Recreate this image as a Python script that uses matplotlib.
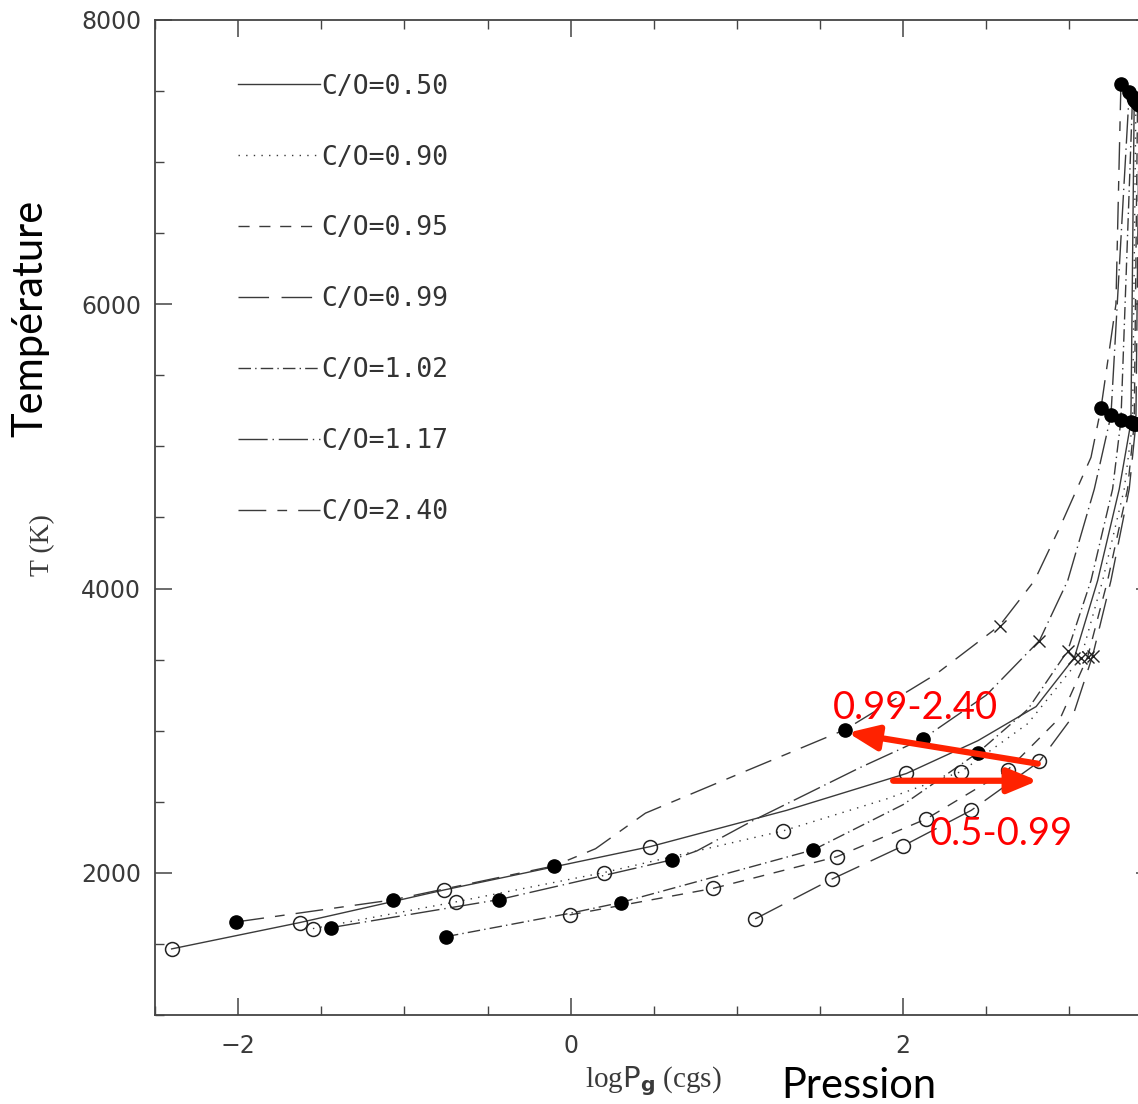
import matplotlib
matplotlib.use("Agg")
import matplotlib.pyplot as plt
from matplotlib.ticker import MultipleLocator

# --- data: log Pg (cgs) and T (K) along each model ---
labels = ["C/O=0.50", "C/O=0.90", "C/O=0.95", "C/O=0.99", "C/O=1.02", "C/O=1.17", "C/O=2.40"]

logp_050 = [-2.40, -1.63, -0.76, 0.48, 1.30, 2.02, 2.45, 2.80, 3.03, 3.17, 3.30, 3.37, 3.39]
t_050 = [1465, 1650, 1880, 2185, 2440, 2699, 2930, 3170, 3514, 4056, 4700, 5169, 7440]

logp_090 = [-1.55, -0.69, 0.20, 1.28, 1.90, 2.35, 2.75, 3.07, 3.20, 3.33, 3.38, 3.40]
t_090 = [1608, 1796, 2002, 2296, 2520, 2713, 3050, 3514, 4056, 4700, 5165, 7420]

logp_095 = [-0.006, 0.855, 1.60, 2.14, 2.63, 2.95, 3.11, 3.23, 3.35, 3.39, 3.41]
t_095 = [1704, 1890, 2113, 2380, 2725, 3100, 3520, 4056, 4700, 5160, 7410]

logp_099 = [1.11, 1.57, 2.00, 2.41, 2.82, 3.02, 3.14, 3.25, 3.36, 3.40, 3.42]
t_099 = [1676, 1955, 2190, 2440, 2784, 3100, 3528, 4056, 4700, 5160, 7400]

logp_102 = [-0.75, -0.006, 0.30, 1.46, 2.00, 2.45, 2.75, 2.99, 3.13, 3.26, 3.31, 3.38]
t_102 = [1551, 1715, 1791, 2162, 2480, 2846, 3150, 3563, 4056, 4700, 5183, 7460]

logp_117 = [-1.44, -0.43, 0.61, 0.76, 1.10, 1.74, 2.12, 2.50, 2.82, 2.99, 3.15, 3.25, 3.36]
t_117 = [1615, 1812, 2092, 2155, 2370, 2740, 2944, 3250, 3634, 4056, 4700, 5218, 7490]

logp_240 = [-2.01, -1.07, -0.10, 0.15, 0.45, 1.00, 1.65, 2.20, 2.58, 2.79, 2.95, 3.13, 3.19, 3.28, 3.31]
t_240 = [1655, 1810, 2049, 2170, 2420, 2690, 3007, 3400, 3739, 4056, 4450, 4923, 5268, 6000, 7549]

# markers
open_logp = [-2.40, -1.63, -0.76, 0.48, 2.02,
             -1.55, -0.69, 0.20, 1.28, 2.35,
             -0.006, 0.855, 1.60, 2.14, 2.63,
             1.11, 1.57, 2.00, 2.41, 2.82]
open_t = [1465, 1650, 1880, 2185, 2699,
          1608, 1796, 2002, 2296, 2713,
          1704, 1890, 2113, 2380, 2725,
          1676, 1955, 2190, 2440, 2784]

filled_logp = [-0.75, 0.30, 1.46, 2.45,
               -1.44, -0.43, 0.61, 2.12,
               -2.01, -1.07, -0.10, 1.65,
               3.19, 3.25, 3.31, 3.37, 3.38, 3.39, 3.40,
               3.31, 3.36, 3.38, 3.39, 3.40, 3.41, 3.42]
filled_t = [1551, 1791, 2162, 2846,
            1615, 1812, 2092, 2944,
            1655, 1810, 2049, 3007,
            5268, 5218, 5183, 5169, 5165, 5160, 5160,
            7549, 7490, 7460, 7440, 7420, 7410, 7400]

cross_logp = [2.58, 2.82, 2.99, 3.03, 3.07, 3.11, 3.14]
cross_t = [3739, 3634, 3563, 3514, 3514, 3520, 3528]

# red annotations
ann_texts = ["0.99-2.40", "0.5-0.99"]
ann_text_xy = [(1.58, 3162), (2.16, 2275)]
arrow_tail = [(2.81, 2768), (1.94, 2648)]
arrow_head = [(1.667, 2986), (2.81, 2648)]

curves = [(logp_050, t_050), (logp_090, t_090), (logp_095, t_095), (logp_099, t_099),
          (logp_102, t_102), (logp_117, t_117), (logp_240, t_240)]
styles = ["-", (0, (1, 4.5)), (0, (8, 7)), (0, (22, 9)),
          (0, (9, 3, 1, 3)), (0, (21, 3.5, 1, 3.5)), (0, (20, 8, 7, 8))]

line_col = "#3a3a3a"

fig = plt.figure(figsize=(11.38, 11.04), dpi=100)
ax = fig.add_axes([155 / 1138, 89 / 1104, 997.5 / 1138, 995 / 1104])

handles = []
for (x, y), ls, lab in zip(curves, styles, labels):
    h, = ax.plot(x, y, color=line_col, lw=1.0, linestyle=ls, label=lab, zorder=2)
    handles.append(h)

ax.plot(open_logp, open_t, "o", ms=10, mfc="none", mec="#222", mew=1.1, ls="none", zorder=3)
ax.plot(filled_logp, filled_t, "o", ms=9.5, mfc="black", mec="black", ls="none", zorder=3)
ax.plot(cross_logp, cross_t, "x", ms=9, mec="#222", mew=1.0, ls="none", zorder=3)

ax.set_xlim(-2.5, 3.5)
ax.set_ylim(1000, 8000)
ax.xaxis.set_major_locator(MultipleLocator(2))
ax.xaxis.set_minor_locator(MultipleLocator(0.5))
ax.yaxis.set_major_locator(MultipleLocator(2000))
ax.yaxis.set_minor_locator(MultipleLocator(500))
ax.tick_params(which="both", direction="in", top=True, right=True, color="#444",
               labelsize=17, labelcolor="#3a3a3a")
ax.tick_params(which="major", length=12, width=1.1)
ax.tick_params(which="minor", length=6.5, width=1.0)
ax.tick_params(axis="y", pad=10)
ax.tick_params(axis="x", pad=14)
for s in ax.spines.values():
    s.set_color("#444")
    s.set_linewidth(1.3)

plt.rcParams["mathtext.fontset"] = "stix"
ax.set_xlabel(r"log$\mathrm{P}_{\mathbf{g}}$ (cgs)", family="Liberation Serif",
              fontsize=21, color="#3a3a3a")
ax.xaxis.set_label_coords(0.5, -0.05)
ax.set_ylabel("T (K)", family="Liberation Serif", fontsize=20, color="#3a3a3a")
ax.yaxis.set_label_coords(-0.100, 0.472)

ax.legend(handles=handles, loc="upper left", bbox_to_anchor=(0.083, 0.946),
          frameon=False, prop={"family": "DejaVu Sans Mono", "size": 19},
          handlelength=3.1, handletextpad=0.05, labelspacing=1.70,
          borderpad=0, borderaxespad=0, labelcolor="#333")

red = "#ff2200"
for tail, head in zip(arrow_tail, arrow_head):
    ax.annotate("", xy=head, xytext=tail,
                arrowprops=dict(arrowstyle="-|>,head_length=1.2,head_width=0.5",
                                color=red, lw=4.5, shrinkA=0, shrinkB=0,
                                mutation_scale=15), zorder=5)
for txt, (tx, ty) in zip(ann_texts, ann_text_xy):
    ax.text(tx, ty, txt, color="red", family="Lato", fontsize=27.5, va="center", ha="left", zorder=6)

fig.text(30 / 1138, 1 - 318 / 1104, "Température", rotation=90, family="Lato",
         fontsize=30, ha="center", va="center")
fig.text(859 / 1138, 1 - 1086 / 1104, "Pression", family="Lato",
         fontsize=30, ha="center", va="center")

fig.savefig("out.png", dpi=100)
